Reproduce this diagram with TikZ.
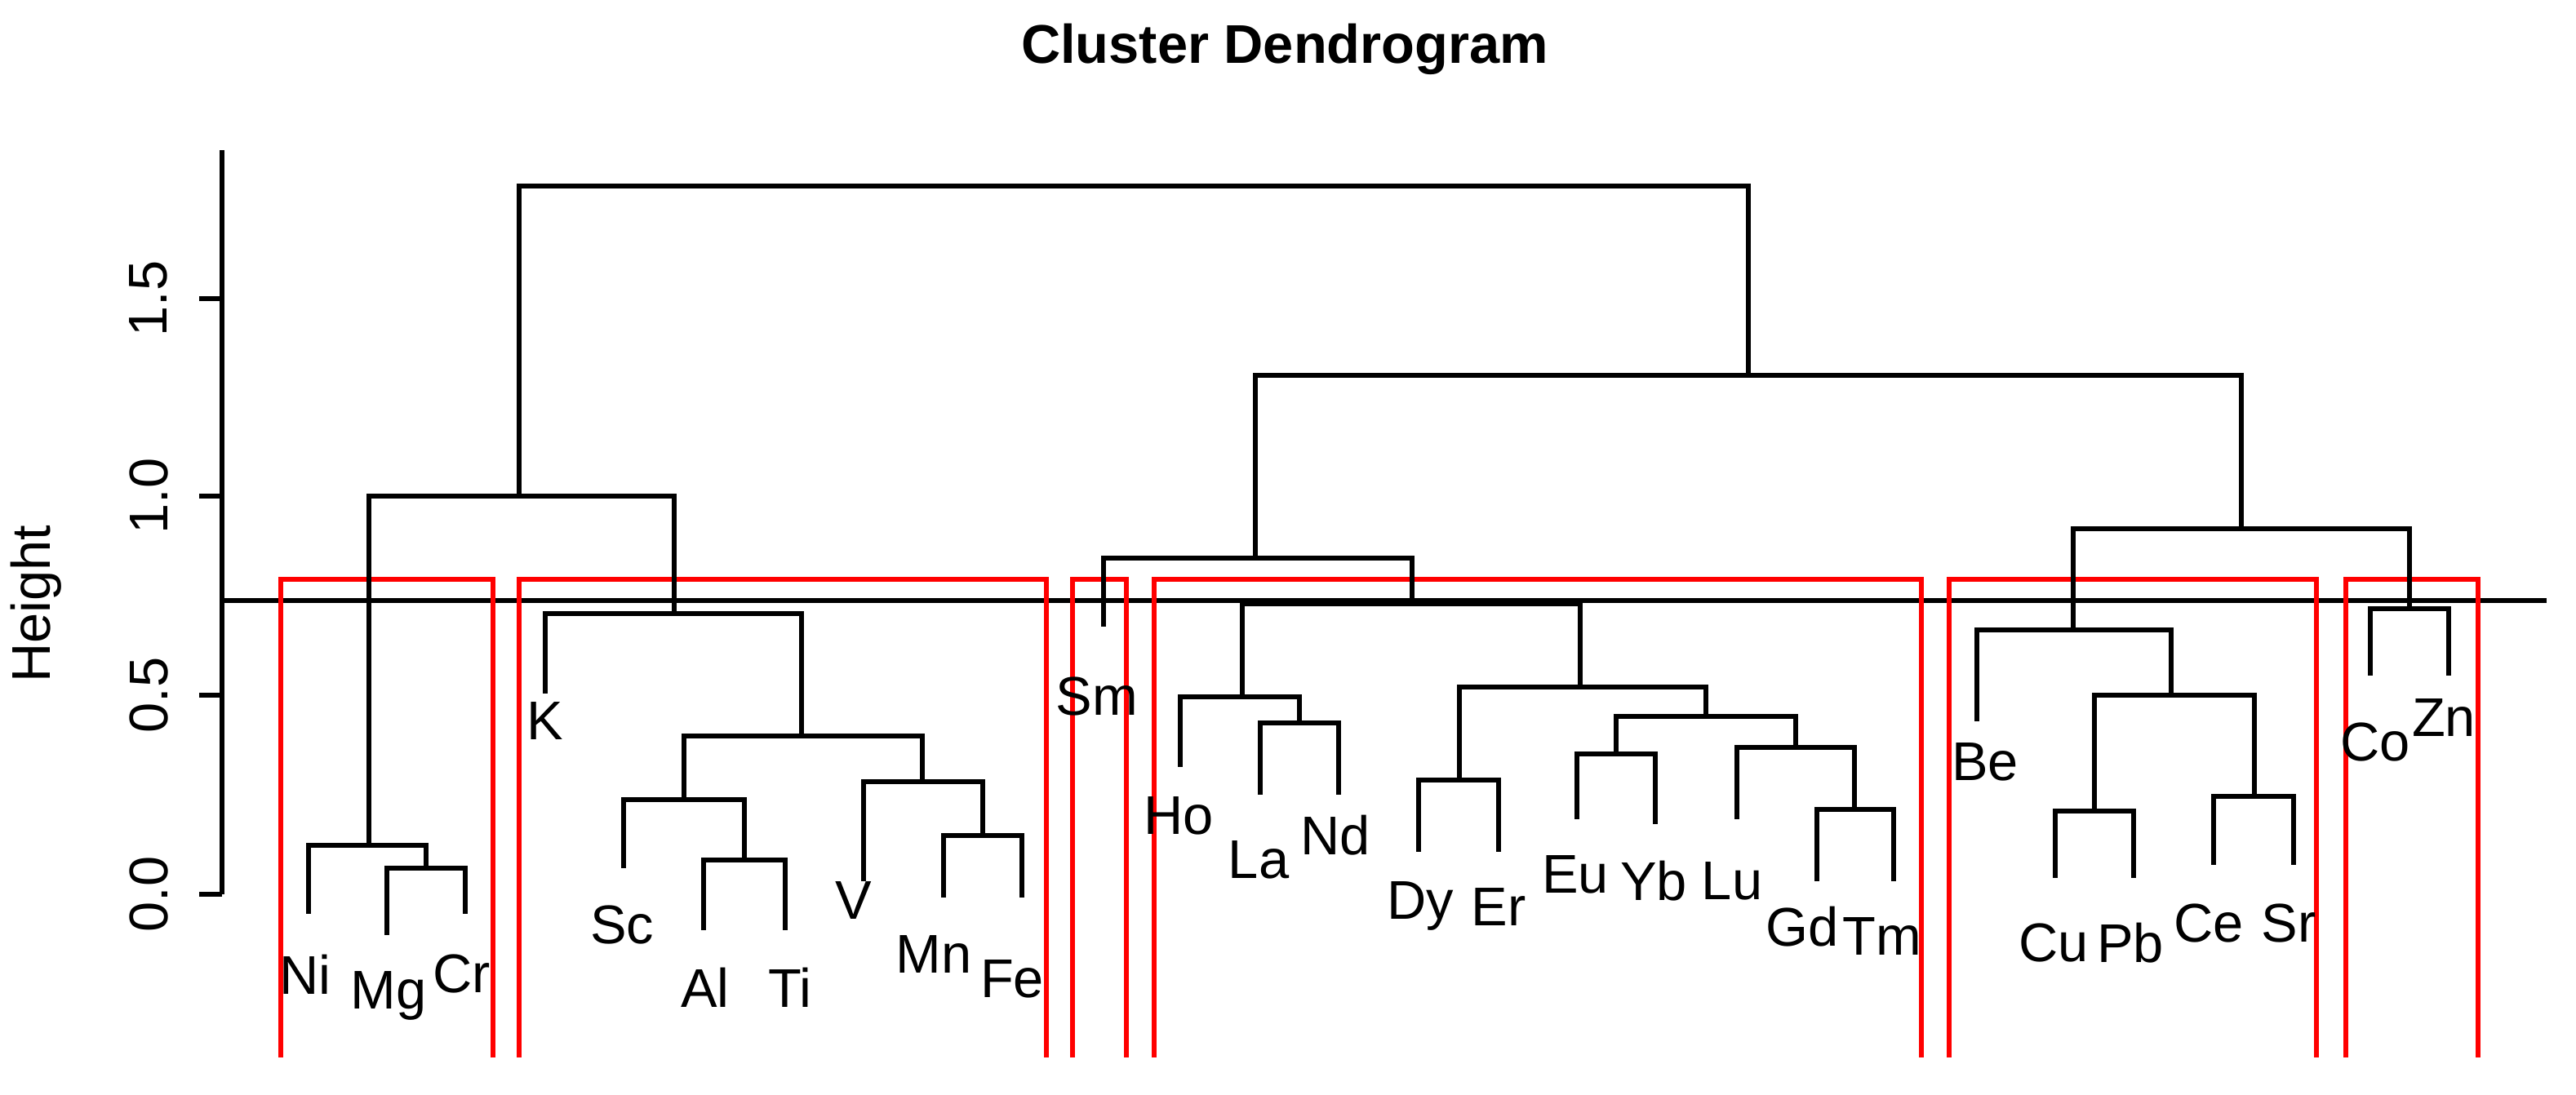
\documentclass[tikz,border=0pt]{standalone}
\usepackage{fontspec}
\setmainfont{Liberation Sans}
\begin{document}
\begin{tikzpicture}[x=0.01cm,y=-0.01cm,
  tree/.style={black,line width=0.9pt},
  box/.style={red,line width=0.9pt},
  lab/.style={font=\fontsize{9.5}{11}\selectfont,inner sep=0pt},
  every node/.style={lab}]
\useasboundingbox (0,0) rectangle (1578,671);
\node[font=\fontsize{9.5}{11}\selectfont\bfseries] (title) at (787,30) {Cluster Dendrogram};
\node[rotate=90] (ylab) at (22,370) {Height};
% axis
\draw[tree] (136,92) -- (136,548);
\foreach \y/\t in {548/0.0,426/0.5,304/1.0,183/1.5}{
  \draw[tree] (136,\y) -- (122,\y);
  \node[rotate=90] at (91,\y) {\t};
}
% cut line
\draw[tree] (136,368) -- (1560,368);
% red boxes
\foreach \a/\b in {172/302,318/641,657/690,707/1177,1194/1419,1437/1518}{
  \draw[box] (\a,648) -- (\a,355) -- (\b,355) -- (\b,648);
}
% tree left
\draw[tree] (318,304) |- (1071,114) -- (1071,230);
\draw[tree] (226,518) |- (413,304) -- (413,376);
\draw[tree] (189,560) |- (261,518) -- (261,532);
\draw[tree] (237,573) |- (285,532) -- (285,560);
\draw[tree] (334,425) |- (491,376) -- (491,451);
\draw[tree] (419,490) |- (565,451) -- (565,479);
\draw[tree] (382,532) |- (456,490) -- (456,527);
\draw[tree] (431,570) |- (481,527) -- (481,570);
\draw[tree] (529,540) |- (602,479) -- (602,512);
\draw[tree] (578,550) |- (626,512) -- (626,550);
% tree right
\draw[tree] (769,342) |- (1373,230) -- (1373,324);
\draw[tree] (676,384) |- (865,342) -- (865,370);
\draw[tree] (761,427) |- (968,370) -- (968,421);
\draw[tree] (723,470) |- (796,427) -- (796,443);
\draw[tree] (772,487) |- (820,443) -- (820,487);
\draw[tree] (894,478) |- (1045,421) -- (1045,439);
\draw[tree] (869,522) |- (918,478) -- (918,522);
\draw[tree] (990,462) |- (1100,439) -- (1100,458);
\draw[tree] (966,502) |- (1014,462) -- (1014,505);
\draw[tree] (1064,502) |- (1136,458) -- (1136,496);
\draw[tree] (1113,540) |- (1160,496) -- (1160,540);
\draw[tree] (1270,386) |- (1476,324) -- (1476,373);
\draw[tree] (1211,442) |- (1330,386) -- (1330,426);
\draw[tree] (1283,497) |- (1381,426) -- (1381,488);
\draw[tree] (1259,538) |- (1307,497) -- (1307,538);
\draw[tree] (1356,530) |- (1405,488) -- (1405,530);
\draw[tree] (1452,414) |- (1500,373) -- (1500,414);
% leaf labels
\foreach \n/\x/\y in {Ni/187/597,Mg/238/610,Cr/283/597,K/334/442,Sc/381/567,Al/432/605,Ti/484/605,V/523/552,Mn/572/585,Fe/620/600,
  Sm/672/427,Ho/722/500,La/771/527,Nd/818/512,Dy/870/555,Er/918/556,Eu/965/536,Yb/1013/540,Lu/1061/540,Gd/1104/568,Tm/1153/574,
  Be/1216/467,Cu/1258/578,Pb/1305/578,Ce/1353/566,Sr/1402/566,Co/1455/455,Zn/1497/440}{
  \node (\n) at (\x,\y) {\n};
}
\end{tikzpicture}
\end{document}
